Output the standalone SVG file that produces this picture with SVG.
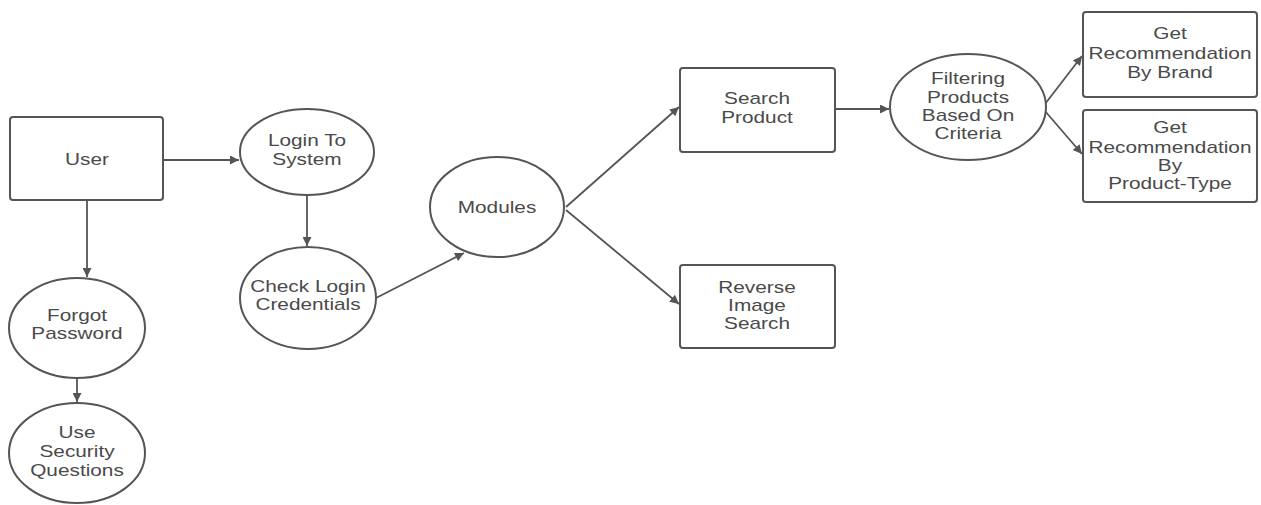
<svg xmlns="http://www.w3.org/2000/svg" width="1261" height="505" viewBox="0 0 1261 505">
<style>
.n{fill:#fff;stroke:#555;stroke-width:2}
.t{font-family:"Liberation Sans",Arial,sans-serif;font-size:16px;fill:#4a4a4a;text-anchor:middle}
.c{fill:none;stroke:#555;stroke-width:1.8;marker-end:url(#a)}
</style>
<defs>
<marker id="a" viewBox="0 0 10 10" refX="10" refY="5" markerWidth="11" markerHeight="9" markerUnits="userSpaceOnUse" orient="auto">
<path d="M0,0 L10,5 L0,10 z" fill="#555"/>
</marker>
</defs>
<rect width="1261" height="505" fill="#fff"/>
<g id="connectors">
<line class="c" x1="164" y1="160" x2="239" y2="160"/>
<line class="c" x1="87" y1="201" x2="87" y2="277"/>
<line class="c" x1="307" y1="196" x2="307" y2="246"/>
<line class="c" x1="77" y1="378" x2="77" y2="402"/>
<line class="c" x1="376" y1="298" x2="464" y2="253"/>
<line class="c" x1="566" y1="207" x2="679" y2="107"/>
<line class="c" x1="566" y1="210" x2="679" y2="304"/>
<line class="c" x1="836" y1="109" x2="889" y2="109"/>
<line class="c" x1="1045" y1="104" x2="1082" y2="56"/>
<line class="c" x1="1045" y1="111" x2="1082" y2="154"/>
</g>
<g id="user">
<rect class="n" x="10" y="117" width="153" height="83" rx="3"/>
<text class="t" transform="matrix(1.3 0 0 1 87 0)"><tspan x="0" y="165">User</tspan></text>
</g>
<g id="login">
<ellipse class="n" cx="307" cy="152" rx="67" ry="43"/>
<text class="t" transform="matrix(1.3 0 0 1 307 0)"><tspan x="0" y="146">Login To</tspan><tspan x="0" y="165">System</tspan></text>
</g>
<g id="check">
<ellipse class="n" cx="308" cy="298" rx="68" ry="51"/>
<text class="t" transform="matrix(1.3 0 0 1 308 0)"><tspan x="0" y="292">Check Login</tspan><tspan x="0" y="310">Credentials</tspan></text>
</g>
<g id="forgot">
<ellipse class="n" cx="77" cy="328" rx="68" ry="50"/>
<text class="t" transform="matrix(1.3 0 0 1 77 0)"><tspan x="0" y="321">Forgot</tspan><tspan x="0" y="339">Password</tspan></text>
</g>
<g id="security">
<ellipse class="n" cx="77" cy="453" rx="68" ry="50"/>
<text class="t" transform="matrix(1.3 0 0 1 77 0)"><tspan x="0" y="438">Use</tspan><tspan x="0" y="457">Security</tspan><tspan x="0" y="476">Questions</tspan></text>
</g>
<g id="modules">
<ellipse class="n" cx="497" cy="207" rx="67" ry="50"/>
<text class="t" transform="matrix(1.3 0 0 1 497 0)"><tspan x="0" y="213">Modules</tspan></text>
</g>
<g id="search">
<rect class="n" x="680" y="68" width="155" height="84" rx="3"/>
<text class="t" transform="matrix(1.3 0 0 1 757 0)"><tspan x="0" y="104">Search</tspan><tspan x="0" y="123">Product</tspan></text>
</g>
<g id="reverse">
<rect class="n" x="680" y="265" width="155" height="83" rx="3"/>
<text class="t" transform="matrix(1.3 0 0 1 757 0)"><tspan x="0" y="293">Reverse</tspan><tspan x="0" y="311">Image</tspan><tspan x="0" y="329">Search</tspan></text>
</g>
<g id="filtering">
<ellipse class="n" cx="968" cy="107" rx="78" ry="53"/>
<text class="t" transform="matrix(1.3 0 0 1 968 0)"><tspan x="0" y="84">Filtering</tspan><tspan x="0" y="103">Products</tspan><tspan x="0" y="121">Based On</tspan><tspan x="0" y="139">Criteria</tspan></text>
</g>
<g id="brand">
<rect class="n" x="1083" y="12" width="174" height="85" rx="3"/>
<text class="t" transform="matrix(1.3 0 0 1 1170 0)"><tspan x="0" y="39">Get</tspan><tspan x="0" y="59">Recommendation</tspan><tspan x="0" y="78">By Brand</tspan></text>
</g>
<g id="ptype">
<rect class="n" x="1083" y="110" width="174" height="92" rx="3"/>
<text class="t" transform="matrix(1.3 0 0 1 1170 0)"><tspan x="0" y="133">Get</tspan><tspan x="0" y="153">Recommendation</tspan><tspan x="0" y="171">By</tspan><tspan x="0" y="189">Product-Type</tspan></text>
</g>
</svg>
